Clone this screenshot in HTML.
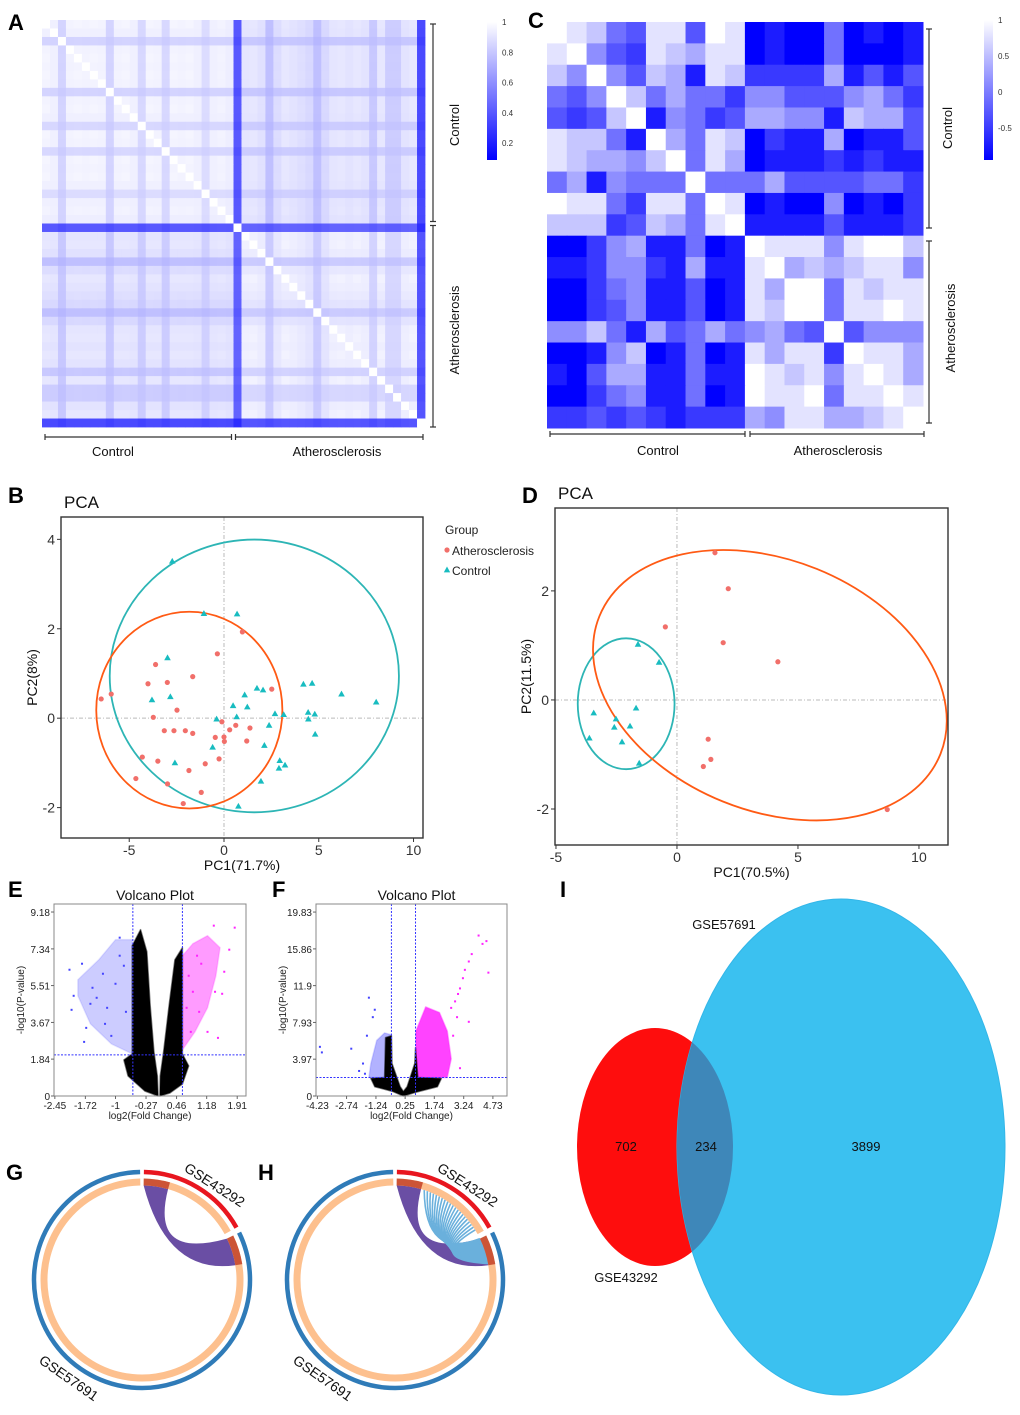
<!DOCTYPE html>
<html><head><meta charset="utf-8"><style>
body{margin:0;background:#fff;}
svg{display:block;font-family:"Liberation Sans",Arial,sans-serif;}
</style></head><body>
<svg id="fig" width="1020" height="1415" viewBox="0 0 1020 1415" xmlns="http://www.w3.org/2000/svg"></svg>
<script>
// ---------- DATA ----------
const hmA_groups = ["Control","Atherosclerosis"];
const hmA_darkness = [.04,.06,.2,.05,.04,.05,.04,.05,.2,.05,.04,.06,.18,.04,.05,.18,.04,.05,.04,.06,.16,.06,.05,.07,.75,.06,.05,.08,.24,.1,.05,.07,.09,.12,.24,.12,.06,.05,.07,.05,.07,.2,.05,.18,.18,.07,.05,.82];
const hmA_groupOf = [0,0,0,0,0,0,0,0,0,0,0,0,0,0,0,0,0,0,0,0,0,0,0,0,1,1,1,1,1,1,1,1,1,1,1,1,1,1,1,1,1,1,1,1,1,1,1,1];
const hmA_ticks = ["1","0.8","0.6","0.4","0.2"];
const hmC_ticks = ["1","0.5","0","-0.5"];
const hmC = [
[0,1,2,5,6,1,1,6,0,1,9,8,9,9,5,9,8,9,8],
[1,0,4,6,7,1,2,3,1,1,9,8,9,9,5,9,9,9,8],
[2,4,0,4,6,2,3,8,1,2,7,7,7,7,3,8,6,8,6],
[5,6,4,0,2,5,3,5,5,7,4,4,6,6,6,4,3,5,7],
[6,7,6,2,0,8,4,5,7,6,3,3,4,4,8,2,3,3,6],
[1,2,2,5,8,0,3,5,1,2,9,7,8,8,3,9,8,8,6],
[1,2,3,3,4,2,0,5,1,3,9,8,8,8,7,8,7,8,8],
[5,3,8,4,5,5,5,0,5,5,5,3,6,6,6,6,5,5,7],
[0,1,1,5,7,1,1,5,0,1,9,8,9,9,4,9,8,9,7],
[2,2,2,7,6,2,3,5,1,0,8,8,8,8,6,8,8,8,7],
[9,9,7,4,3,8,8,5,9,8,0,1,1,1,4,1,0,0,2],
[8,8,7,4,4,7,8,3,8,8,1,0,3,2,3,2,1,1,4],
[9,9,7,5,4,8,8,6,9,8,1,3,0,0,5,1,2,1,1],
[9,9,7,6,4,8,8,6,9,8,1,2,0,0,5,1,1,0,1],
[4,4,2,5,8,3,6,5,3,5,4,3,5,6,0,6,4,4,4],
[9,9,8,4,2,9,8,5,9,8,1,3,1,1,7,0,1,1,3],
[8,9,6,3,3,8,8,5,8,8,0,1,2,1,4,1,0,1,3],
[9,9,7,5,4,8,8,5,9,8,0,1,1,0,5,1,1,0,1],
[7,7,6,7,6,7,8,7,7,7,3,4,1,1,3,3,2,1,0]];
// PCA B
const pcaB_athX=[-6.48,-5.95,-3.61,-4.01,-2.99,-1.65,-0.35,0.97,-2.48,-3.73,-3.15,-2.64,-2.04,-1.65,-0.11,0.62,0.30,1.37,-0.46,0.00,0.02,1.20,-4.31,-3.49,-1.85,-0.99,-0.26,-4.65,-2.98,-1.20,-2.15,2.52];
const pcaB_athY=[0.43,0.54,1.20,0.77,0.80,0.93,1.44,1.93,0.18,0.02,-0.28,-0.28,-0.28,-0.34,-0.08,-0.16,-0.26,-0.22,-0.43,-0.42,-0.52,-0.51,-0.87,-0.96,-1.17,-1.02,-0.91,-1.35,-1.47,-1.66,-1.91,0.65];
const pcaB_ctlX=[-2.73,-1.06,0.69,-2.98,-3.80,-2.83,1.09,1.74,2.06,0.48,1.23,2.69,3.15,0.67,-0.39,2.38,-0.60,2.13,-2.59,2.94,3.22,2.90,1.95,0.76,4.19,4.65,6.20,8.03,4.44,4.79,4.45,4.81];
const pcaB_ctlY=[3.51,2.34,2.33,1.35,0.41,0.48,0.52,0.67,0.63,0.28,0.25,0.10,0.08,0.03,-0.02,-0.16,-0.65,-0.61,-1.00,-0.95,-1.05,-1.12,-1.41,-1.97,0.76,0.78,0.54,0.36,0.13,0.09,-0.02,-0.36];
const pcaB_ellAth=[-1.83,0.18,4.91,2.2];
const pcaB_ellCtl=[1.60,0.945,7.63,3.05];
const pcaB_xticks=[-5,0,5,10], pcaB_yticks=[-2,0,2,4];
// PCA D
const pcaD_athX=[1.57,2.12,-0.48,1.91,4.17,1.29,1.40,1.09,8.69];
const pcaD_athY=[2.70,2.04,1.34,1.05,0.70,-0.72,-1.09,-1.22,-2.01];
const pcaD_ctlX=[-1.61,-0.74,-3.44,-2.52,-1.69,-2.59,-1.94,-3.62,-2.27,-1.56];
const pcaD_ctlY=[1.02,0.69,-0.24,-0.35,-0.15,-0.50,-0.48,-0.70,-0.77,-1.16];
const pcaD_ellAth=[3.84,0.27,7.6,2.3,22];
const pcaD_ellCtl=[-2.1,-0.07,2.0,1.2,0];
const pcaD_xticks=[-5,0,5,10], pcaD_yticks=[-2,0,2];
// Volcano E
const vE_xticks=[-2.45,-1.72,-1,-0.27,0.46,1.18,1.91];
const vE_yticks=[0,1.84,3.67,5.51,7.34,9.18];
const vE_blackL=[[0.02,0],[-0.3,0.25],[-0.7,1.0],[-0.8,1.8],[-0.6,2.1],[-0.6,7.5],[-0.4,8.3],[-0.25,7.2],[-0.17,4.5],[-0.08,2.2],[0.0,1.0]];
const vE_blackR=[[0.07,1.0],[0.15,2.2],[0.28,4.5],[0.42,6.8],[0.6,7.4],[0.6,2.1],[0.75,1.5],[0.6,0.6],[0.3,0.15],[0.06,0]];
const vE_blue=[[-0.6,2.1],[-1.1,2.6],[-1.6,3.6],[-1.9,5.0],[-1.9,5.8],[-1.4,6.8],[-1.0,7.8],[-0.6,7.8]];
const vE_pink=[[0.6,2.3],[0.9,3.2],[1.2,4.4],[1.4,6],[1.5,7.4],[1.2,8.0],[0.85,7.6],[0.6,7.0]];
const vE_bluePtsX=[-2.1,-2.0,-1.8,-1.7,-1.55,-1.3,-1.2,-0.9,-1.45,-1.1,-2.05,-1.75,-0.8,-1.0,-0.75,-1.25,-0.9,-1.6];
const vE_bluePtsY=[6.3,5.0,6.6,3.4,5.4,6.1,4.4,7.9,4.9,3.0,4.3,2.7,6.5,5.6,4.2,3.6,7.0,4.6];
const vE_pinkPtsX=[1.35,1.55,1.72,1.85,1.38,1.2,1.05,1.45,1.6,0.75,0.85,0.95,0.7,1.0,0.8];
const vE_pinkPtsY=[8.5,5.1,7.3,8.4,5.2,3.2,6.6,2.9,6.2,6.0,5.2,7.0,4.4,4.2,3.2];
// Volcano F
const vF_xticks=[-4.23,-2.74,-1.24,0.25,1.74,3.24,4.73];
const vF_yticks=[0,3.97,7.93,11.9,15.86,19.83];
const vF_black=[[0.16,0],[-0.4,0.5],[-1.3,1.0],[-1.5,1.9],[-0.8,2],[-0.75,6.3],[-0.45,6.5],[-0.42,3.5],[0.0,1.0],[0.16,0.5],[0.35,1.0],[0.74,3.5],[0.78,5.2],[0.9,2],[2.1,1.9],[1.9,1],[0.8,0.4]];
const vF_blue=[[-0.45,2],[-1.6,2],[-1.5,3.5],[-1.2,6],[-0.8,6.8],[-0.45,6.6]];
const vF_pink=[[0.8,2],[2.4,2],[2.6,4],[2.4,7],[2.0,9],[1.3,9.6],[0.8,7]];
const vF_bluePtsX=[-4.1,-4.0,-2.1,-2.5,-1.9,-1.6,-1.4,-1.3,-1.7,-1.8];
const vF_bluePtsY=[5.3,4.7,2.7,5.1,3.5,10.6,8.5,9.3,6.5,2.4];
const vF_pinkPtsX=[4.4,4.2,4.0,3.65,3.5,3.3,3.2,3.05,2.95,2.8,2.9,3.5,4.5,3.05,2.6,2.7];
const vF_pinkPtsY=[16.7,16.4,17.3,15.3,14.5,13.6,12.7,11.6,11.0,10.2,8.5,8.0,13.3,3.0,9.5,6.5];
// Circos & Venn
const circ_sets=["GSE43292","GSE57691"];
const circ_redArc=[1,61], circ_blueArc=[64,359];
const circ_segA=[1,16], circ_segB=[64,81];
const circ_lineSrc=[18,20,22,24,26,28,30,32,34,36,38,40,42,44,46,48,50,52,54,56,58];
const venn_counts=[702,234,3899];
const venn_labels=["GSE43292","GSE57691"];

// ---------- HELPERS ----------
const NS="http://www.w3.org/2000/svg";
const svg=document.getElementById('fig');
function mk(tag,attrs,parent){const e=document.createElementNS(NS,tag);for(const k in attrs)e.setAttribute(k,attrs[k]);(parent||svg).appendChild(e);return e;}
function txt(s,x,y,size,parent,extra){const e=mk('text',Object.assign({x:x,y:y,'font-size':size,fill:'#111'},extra||{}),parent);e.textContent=s;return e;}
function blueCol(t){t=Math.max(0,Math.min(1,t));const c=Math.round(255*(1-t));return `rgb(${c},${c},255)`;}

[["A",8,30],["C",528,28],["B",8,503],["D",522,503],["E",8,897],["F",272,897],["G",6,1180],["H",258,1180],["I",560,897]].forEach(p=>{
  const e=txt(p[0],p[1],p[2],22,svg,{'font-weight':'bold',fill:'#000'});
  
  
});

// ---------- HEATMAP A ----------
(function(){
  const g=mk('g',{});
  
  
  const x0=42,y0=20,W=383,H=407,n=hmA_darkness.length,cw=W/n,ch=H/n;
  for(let i=0;i<n;i++)for(let j=0;j<n;j++){
    let v;
    if(i===j)v=1;else{const a=hmA_darkness[i],b=hmA_darkness[j];v=1-0.72*Math.max(a,b)-0.2*Math.min(a,b)-(hmA_groupOf[i]!==hmA_groupOf[j]?0.04:0);}
    const r=mk('rect',{x:x0+j*cw,y:y0+i*ch,width:cw+0.4,height:ch+0.4,fill:blueCol((1-v)/0.9)},g);
    
    
  }
  const defs=mk('defs',{});
  const lg=mk('linearGradient',{id:'gA',x1:0,y1:0,x2:0,y2:1},defs);
  mk('stop',{offset:0,'stop-color':'#ffffff'},lg);mk('stop',{offset:1,'stop-color':'#0000ff'},lg);
  const cb=mk('rect',{x:487,y:22,width:10,height:138,fill:'url(#gA)'});
  
  
  hmA_ticks.forEach((t,k)=>{const e=txt(t,502,25+k*30.3,8,svg,{fill:'#333'});
    
    });
  const br=mk('g',{stroke:'#333','stroke-width':1.2,fill:'none'});
  
  
  const mid=y0+24*ch;
  [[y0+4,mid-2],[mid+2,y0+H]].forEach(s=>{mk('line',{x1:433,y1:s[0],x2:433,y2:s[1]},br);mk('line',{x1:430,y1:s[0],x2:436,y2:s[0]},br);mk('line',{x1:430,y1:s[1],x2:436,y2:s[1]},br);});
  const midx=x0+24*cw;
  [[x0+3,midx-2],[midx+2,x0+W-2]].forEach(s=>{mk('line',{x1:s[0],y1:437,x2:s[1],y2:437},br);mk('line',{x1:s[0],y1:434,x2:s[0],y2:440},br);mk('line',{x1:s[1],y1:434,x2:s[1],y2:440},br);});
  let e=txt(hmA_groups[0],113,456,13,svg,{'text-anchor':'middle'});
  e=txt(hmA_groups[1],337,456,13,svg,{'text-anchor':'middle'});
  e=txt(hmA_groups[0],0,0,13,svg,{'text-anchor':'middle',transform:'translate(459,125) rotate(-90)'});
  e=txt(hmA_groups[1],0,0,13,svg,{'text-anchor':'middle',transform:'translate(459,330) rotate(-90)'});
})();

// ---------- HEATMAP C ----------
(function(){
  const g=mk('g',{});
  
  
  const x0=547,y0=22,W=376,H=406,n=hmC.length,cw=W/hmC[0].length,ch=H/n;
  hmC.forEach((row,i)=>row.forEach((v,j)=>{
    const r=mk('rect',{x:x0+j*cw,y:y0+i*ch,width:cw+0.5,height:ch+0.5,fill:blueCol(v/9)},g);
    
    
  }));
  const defs=mk('defs',{});
  const lg=mk('linearGradient',{id:'gC',x1:0,y1:0,x2:0,y2:1},defs);
  mk('stop',{offset:0,'stop-color':'#ffffff'},lg);mk('stop',{offset:1,'stop-color':'#0000ff'},lg);
  const cb=mk('rect',{x:984,y:20,width:9,height:140,fill:'url(#gC)'});
  
  
  hmC_ticks.forEach((t,k)=>{const e=txt(t,998,23+k*36,8,svg,{fill:'#333'});
    
    });
  const br=mk('g',{stroke:'#333','stroke-width':1.2,fill:'none'});
  
  
  [[29,228],[241,423]].forEach(s=>{mk('line',{x1:929,y1:s[0],x2:929,y2:s[1]},br);mk('line',{x1:926,y1:s[0],x2:932,y2:s[0]},br);mk('line',{x1:926,y1:s[1],x2:932,y2:s[1]},br);});
  [[550,745],[750,924]].forEach(s=>{mk('line',{x1:s[0],y1:434,x2:s[1],y2:434},br);mk('line',{x1:s[0],y1:431,x2:s[0],y2:437},br);mk('line',{x1:s[1],y1:431,x2:s[1],y2:437},br);});
  let e=txt(hmA_groups[0],658,455,13,svg,{'text-anchor':'middle'});
  e=txt(hmA_groups[1],838,455,13,svg,{'text-anchor':'middle'});
  e=txt(hmA_groups[0],0,0,13,svg,{'text-anchor':'middle',transform:'translate(952,128) rotate(-90)'});
  e=txt(hmA_groups[1],0,0,13,svg,{'text-anchor':'middle',transform:'translate(955,328) rotate(-90)'});
})();

// ---------- PCA ----------
function pca(cfg){
  const g=mk('g',{});
  
  
  const sx=v=>cfg.L+(v-cfg.xmin)/(cfg.xmax-cfg.xmin)*(cfg.R-cfg.L);
  const sy=v=>cfg.B-(v-cfg.ymin)/(cfg.ymax-cfg.ymin)*(cfg.B-cfg.T);
  const kx=(cfg.R-cfg.L)/(cfg.xmax-cfg.xmin), ky=(cfg.B-cfg.T)/(cfg.ymax-cfg.ymin);
  let e=mk('line',{x1:sx(0),y1:cfg.T,x2:sx(0),y2:cfg.B,stroke:'#bbb','stroke-dasharray':'4 2 1 2','stroke-width':1},g);
  
  e=mk('line',{x1:cfg.L,y1:sy(0),x2:cfg.R,y2:sy(0),stroke:'#bbb','stroke-dasharray':'4 2 1 2','stroke-width':1},g);
  
  [[cfg.ellCtl,'#2db5b5','ellipse-control'],[cfg.ellAth,'#ff5a14','ellipse-atherosclerosis']].forEach(q=>{
    const el=q[0];
    e=mk('ellipse',{cx:sx(el[0]),cy:sy(el[1]),rx:el[2]*kx,ry:el[3]*ky,fill:'none',stroke:q[1],'stroke-width':1.8,transform:`rotate(${el[4]||0} ${sx(el[0])} ${sy(el[1])})`},g);
    
  });
  cfg.athX.forEach((x,i)=>{e=mk('circle',{cx:sx(x),cy:sy(cfg.athY[i]),r:2.6,fill:'#f16f6a'},g);
    });
  cfg.ctlX.forEach((x,i)=>{const cx=sx(x),cy=sy(cfg.ctlY[i]);
    e=mk('polygon',{points:`${cx},${cy-3.4} ${cx-3.3},${cy+2.4} ${cx+3.3},${cy+2.4}`,fill:'#18bcc0'},g);
    });
  e=mk('rect',{x:cfg.L,y:cfg.T,width:cfg.R-cfg.L,height:cfg.B-cfg.T,fill:'none',stroke:'#333','stroke-width':1.4},g);
  
  cfg.xticks.forEach(t=>{mk('line',{x1:sx(t),y1:cfg.B,x2:sx(t),y2:cfg.B+4,stroke:'#333'},g);
    e=txt(String(t),sx(t),cfg.B+17,14,g,{'text-anchor':'middle',fill:'#333'});
    });
  cfg.yticks.forEach(t=>{mk('line',{x1:cfg.L-4,y1:sy(t),x2:cfg.L,y2:sy(t),stroke:'#333'},g);
    e=txt(String(t),cfg.L-6,sy(t)+5,14,g,{'text-anchor':'end',fill:'#333'});
    });
  e=txt('PCA',cfg.L+3,cfg.T-9,17,g,{fill:'#111'});
  e=txt(cfg.xlab,(cfg.L+cfg.R)/2,cfg.B+32,14,g,{'text-anchor':'middle'});
  e=txt(cfg.ylab,0,0,14,g,{'text-anchor':'middle',transform:`translate(${cfg.L-24},${(cfg.T+cfg.B)/2}) rotate(-90)`});
}
pca({name:'pca-b',L:61,R:423,T:517,B:838,xmin:-8.6,xmax:10.5,ymin:-2.68,ymax:4.5,athX:pcaB_athX,athY:pcaB_athY,ctlX:pcaB_ctlX,ctlY:pcaB_ctlY,ellAth:pcaB_ellAth,ellCtl:pcaB_ellCtl,xticks:pcaB_xticks,yticks:pcaB_yticks,xlab:'PC1(71.7%)',ylab:'PC2(8%)'});
pca({name:'pca-d',L:555,R:948,T:508,B:845,xmin:-5.04,xmax:11.2,ymin:-2.66,ymax:3.52,athX:pcaD_athX,athY:pcaD_athY,ctlX:pcaD_ctlX,ctlY:pcaD_ctlY,ellAth:pcaD_ellAth,ellCtl:pcaD_ellCtl,xticks:pcaD_xticks,yticks:pcaD_yticks,xlab:'PC1(70.5%)',ylab:'PC2(11.5%)'});
(function(){
  const g=mk('g',{});
  
  
  txt('Group',445,534,12,g,{fill:'#222'});
  let e=mk('circle',{cx:447,cy:550,r:2.6,fill:'#f16f6a'},g);
  
  e=txt('Atherosclerosis',452,555,12,g,{fill:'#222'});
  
  e=mk('polygon',{points:'447,566.5 443.8,572.4 450.2,572.4',fill:'#18bcc0'},g);
  
  e=txt('Control',452,575,12,g,{fill:'#222'});
  
})();

// ---------- VOLCANO ----------
function volcano(c){
  const g=mk('g',{});
  
  
  const sx=v=>c.L+(v-c.xmin)/(c.xmax-c.xmin)*(c.R-c.L);
  const sy=v=>c.B-(v-c.ymin)/(c.ymax-c.ymin)*(c.B-c.T);
  const poly=(pts,fill,op,name)=>{const e=mk('polygon',{points:pts.map(p=>sx(p[0])+','+sy(p[1])).join(' '),fill:fill,'fill-opacity':op,stroke:fill,'stroke-opacity':op*0.5,'stroke-width':1.5,'stroke-linejoin':'round'},g);
    };
  poly(c.blue,'#5555ff',c.bop,'down-regulated-region');
  poly(c.pink,'#ff22ff',c.pop,'up-regulated-region');
  c.black.forEach(b=>poly(b,'#000',1,'not-significant-region'));
  c.bx.forEach((x,i)=>{const e=mk('rect',{x:sx(x)-1,y:sy(c.by[i])-1,width:2,height:2,fill:'#4444ff'},g);
    });
  c.px.forEach((x,i)=>{const e=mk('rect',{x:sx(x)-1,y:sy(c.py[i])-1,width:2,height:2,fill:'#ff22ff'},g);
    });
  c.vlines.forEach(v=>{const e=mk('line',{x1:sx(v),y1:c.T,x2:sx(v),y2:c.B,stroke:'#3333ff','stroke-dasharray':'2 1.5','stroke-width':1},g);
    });
  let e=mk('line',{x1:c.L,y1:sy(c.hline),x2:c.R,y2:sy(c.hline),stroke:'#3333ff','stroke-dasharray':'2 1.5','stroke-width':1},g);
  
  e=mk('rect',{x:c.L,y:c.T,width:c.R-c.L,height:c.B-c.T,fill:'none',stroke:'#888','stroke-width':1},g);
  
  c.xticks.forEach(t=>{mk('line',{x1:sx(t),y1:c.B,x2:sx(t),y2:c.B+3,stroke:'#666'},g);
    e=txt(String(t),sx(t),c.B+13,10,g,{'text-anchor':'middle',fill:'#222'});});
  c.yticks.forEach(t=>{mk('line',{x1:c.L-3,y1:sy(t),x2:c.L,y2:sy(t),stroke:'#666'},g);
    e=txt(String(t),c.L-4,sy(t)+4,10,g,{'text-anchor':'end',fill:'#222'});});
  e=txt('Volcano Plot',(c.L+c.R)/2+5,900,14,g,{'text-anchor':'middle'});
  e=txt('log2(Fold Change)',(c.L+c.R)/2,1119,10,g,{'text-anchor':'middle',fill:'#222'});
  e=txt('-log10(P-value)',0,0,10,g,{'text-anchor':'middle',fill:'#222',transform:`translate(${c.L-30},${(c.T+c.B)/2}) rotate(-90)`});
}
volcano({name:'volcano-e',L:54,R:246,T:904,B:1096,xmin:-2.47,xmax:2.12,ymin:0,ymax:9.58,black:[vE_blackL,vE_blackR],blue:vE_blue,pink:vE_pink,bop:0.3,pop:0.45,bx:vE_bluePtsX,by:vE_bluePtsY,px:vE_pinkPtsX,py:vE_pinkPtsY,vlines:[-0.585,0.6],hline:2.05,xticks:vE_xticks,yticks:vE_yticks});
volcano({name:'volcano-f',L:316,R:507,T:904,B:1096,xmin:-4.3,xmax:5.45,ymin:0,ymax:20.7,black:[vF_black],blue:vF_blue,pink:vF_pink,bop:0.45,pop:0.85,bx:vF_bluePtsX,by:vF_bluePtsY,px:vF_pinkPtsX,py:vF_pinkPtsY,vlines:[-0.45,0.78],hline:2.0,xticks:vF_xticks,yticks:vF_yticks});

// ---------- CIRCOS ----------
function pol(cx,cy,r,a){const t=a*Math.PI/180;return [cx+r*Math.sin(t),cy-r*Math.cos(t)];}
function arc(cx,cy,r,a1,a2){const p=pol(cx,cy,r,a1),q=pol(cx,cy,r,a2);return `M${p[0]},${p[1]} A${r},${r} 0 ${(a2-a1)>180?1:0} 1 ${q[0]},${q[1]}`;}
function circos(c){
  const g=mk('g',{});
  
  
  let e=mk('path',{d:arc(c.cx,c.cy,108,circ_blueArc[0],circ_blueArc[1]),stroke:'#2f7bb8','stroke-width':4.5,fill:'none'},g);
  
  e=mk('path',{d:arc(c.cx,c.cy,108,circ_redArc[0],circ_redArc[1]),stroke:'#e8161f','stroke-width':4.5,fill:'none'},g);
  
  e=mk('path',{d:arc(c.cx,c.cy,98,circ_segA[0],circ_redArc[1])+' '+arc(c.cx,c.cy,98,circ_blueArc[0],circ_blueArc[1]),stroke:'#fdc08e','stroke-width':7,fill:'none'},g);
  
  const r=94.5;
  const a1=pol(c.cx,c.cy,r,circ_segA[0]),a2=pol(c.cx,c.cy,r,circ_segA[1]),b1=pol(c.cx,c.cy,r,circ_segB[0]),b2=pol(c.cx,c.cy,r,circ_segB[1]);
  const ctl1=[c.cx+8,c.cy-20],ctl2=[c.cx+25,c.cy-5];
  e=mk('path',{d:`M${a1[0]},${a1[1]} A${r},${r} 0 0 1 ${a2[0]},${a2[1]} Q${ctl1[0]},${ctl1[1]} ${b1[0]},${b1[1]} A${r},${r} 0 0 1 ${b2[0]},${b2[1]} Q${ctl2[0]},${ctl2[1]} ${a1[0]},${a1[1]}Z`,fill:'#6a4ea4'},g);
  
  if(c.lines){
    circ_lineSrc.forEach(a=>{const p=pol(c.cx,c.cy,r,a),q=pol(c.cx,c.cy,r,circ_segB[0]+(a-18)*0.4);
      const l=mk('path',{d:`M${p[0]},${p[1]} Q${c.cx+30},${c.cy-20} ${q[0]},${q[1]}`,stroke:'#6ab0dc','stroke-width':1.6,fill:'none'},g);
      
      });
  }
  [circ_segA,circ_segB].forEach(s=>{e=mk('path',{d:arc(c.cx,c.cy,98,s[0],s[1]),stroke:'#cc5436','stroke-width':7,fill:'none'},g);
    });
  e=txt(circ_sets[0],0,0,14,g,{'text-anchor':'middle',transform:`translate(${c.l1[0]},${c.l1[1]}) rotate(33)`});
  
  e=txt(circ_sets[1],0,0,14,g,{'text-anchor':'middle',transform:`translate(${c.l2[0]},${c.l2[1]}) rotate(35)`});
  
}
circos({name:'circos-g',cx:142,cy:1280,l1:[212,1189],l2:[66,1382],lines:false});
circos({name:'circos-h',cx:395,cy:1280,l1:[465,1189],l2:[320,1382],lines:true});

// ---------- VENN ----------
(function(){
  const g=mk('g',{});
  
  
  const defs=mk('defs',{},g);
  const cp=mk('clipPath',{id:'clipRed'},defs);
  mk('ellipse',{cx:655,cy:1147,rx:78,ry:119},cp);
  let e=mk('ellipse',{cx:655,cy:1147,rx:78,ry:119,fill:'#fe0d0d'},g);
  
  e=mk('ellipse',{cx:841,cy:1147,rx:164,ry:248,fill:'#3bc1f0',stroke:'#33b6e8','stroke-width':1},g);
  
  e=mk('ellipse',{cx:841,cy:1147,rx:164,ry:248,fill:'#3e87b9','clip-path':'url(#clipRed)'},g);
  
  e=txt(String(venn_counts[0]),626,1151,13,g,{'text-anchor':'middle'});
  e=txt(String(venn_counts[1]),706,1151,13,g,{'text-anchor':'middle'});
  e=txt(String(venn_counts[2]),866,1151,13,g,{'text-anchor':'middle'});
  e=txt(venn_labels[0],626,1282,13,g,{'text-anchor':'middle'});
  e=txt(venn_labels[1],724,929,13,g,{'text-anchor':'middle'});
})();
</script>
</body></html>
